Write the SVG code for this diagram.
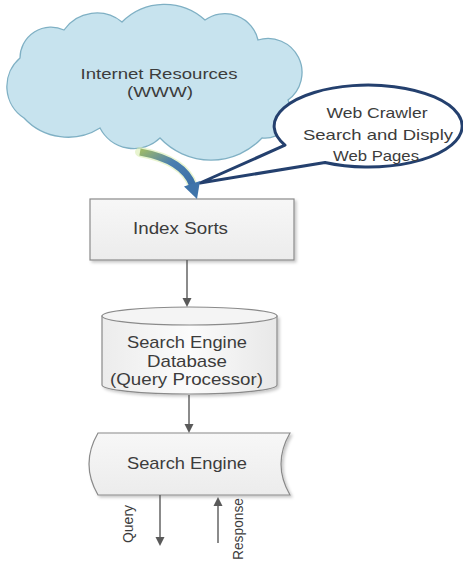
<svg xmlns="http://www.w3.org/2000/svg" width="463" height="565" viewBox="0 0 463 565">
<defs>
<style>
.t{font-family:"Liberation Sans",Arial,sans-serif;fill:#3c3c3c;}
.ln{stroke:#5a5a5a;stroke-width:1.4;fill:none;}
.ah{fill:#5a5a5a;}
.box{stroke:#8a8a8a;stroke-width:1.2;}
</style>
<linearGradient id="gBox" x1="0" y1="0" x2="0" y2="1">
<stop offset="0" stop-color="#f7f7f7"/>
<stop offset="1" stop-color="#ececec"/>
</linearGradient>
<linearGradient id="gCyl" x1="0" y1="0" x2="1" y2="0">
<stop offset="0" stop-color="#ececec"/>
<stop offset="0.5" stop-color="#fbfbfb"/>
<stop offset="1" stop-color="#e8e8e8"/>
</linearGradient>
<linearGradient id="gArr" x1="0" y1="0" x2="1" y2="1">
<stop offset="0" stop-color="#9cb86a"/>
<stop offset="0.45" stop-color="#4b7fb0"/>
<stop offset="1" stop-color="#3b6fa6"/>
</linearGradient>
<filter id="sh" x="-10%" y="-10%" width="130%" height="140%">
<feDropShadow dx="2" dy="2" stdDeviation="1.5" flood-color="#000" flood-opacity="0.22"/>
</filter>
</defs>
<rect width="463" height="565" fill="#ffffff"/>

<g id="cloud">
<path d="M24,118 A37.5,37.5 0 0 1 20,58 A31,31 0 0 1 64,30 A40,40 0 0 1 122,22 A60,60 0 0 1 205,20 A34,34 0 0 1 258,40 A34,34 0 0 1 288,100 A26,26 0 0 1 262,138 A70,70 0 0 1 160,138 A38,38 0 0 1 100,128 A60,60 0 0 1 24,118 Z" fill="#c7e3ee" stroke="#7fb0c4" stroke-width="1.3"/>
<text class="t" x="159" y="79" font-size="15" text-anchor="middle" textLength="157" lengthAdjust="spacingAndGlyphs">Internet Resources</text>
<text class="t" x="160" y="97" font-size="15" text-anchor="middle" textLength="66" lengthAdjust="spacingAndGlyphs">(WWW)</text>
</g>

<g id="callout">
<path d="M285,145.2 A94,41 0 1 1 325,162.5 L200,183 Z" fill="#ffffff" stroke="#24406e" stroke-width="3" stroke-linejoin="round"/>
<text class="t" x="377" y="118" font-size="14.5" text-anchor="middle" textLength="101" lengthAdjust="spacingAndGlyphs">Web Crawler</text>
<text class="t" x="378" y="140" font-size="14.5" text-anchor="middle" textLength="150" lengthAdjust="spacingAndGlyphs">Search and Disply</text>
<text class="t" x="376" y="161" font-size="14.5" text-anchor="middle" textLength="86" lengthAdjust="spacingAndGlyphs">Web Pages</text>
</g>

<g id="index-sorts">
<rect class="box" x="90" y="199" width="204" height="61" fill="url(#gBox)" filter="url(#sh)"/>
<text class="t" x="133" y="234" font-size="17" textLength="95" lengthAdjust="spacingAndGlyphs">Index Sorts</text>
</g>

<g id="database">
<path class="box" d="M102,316 L102,385 A87.5,9 0 0 0 277,385 L277,316 Z" fill="url(#gCyl)" filter="url(#sh)"/>
<ellipse class="box" cx="189.5" cy="316" rx="87.5" ry="9" fill="#f4f4f4"/>
<text class="t" x="187" y="348" font-size="17" text-anchor="middle" textLength="120" lengthAdjust="spacingAndGlyphs">Search Engine</text>
<text class="t" x="187" y="366.5" font-size="17" text-anchor="middle" textLength="80" lengthAdjust="spacingAndGlyphs">Database</text>
<text class="t" x="186.5" y="385" font-size="17" text-anchor="middle" textLength="153" lengthAdjust="spacingAndGlyphs">(Query Processor)</text>
</g>

<g id="search-engine">
<path class="box" d="M98,433 L290,433 Q272,464 290,495 L98,495 Q80,464 98,433 Z" fill="url(#gBox)" filter="url(#sh)"/>
<text class="t" x="187" y="469" font-size="17" text-anchor="middle" textLength="120" lengthAdjust="spacingAndGlyphs">Search Engine</text>
</g>

<g id="connectors">
<path d="M140,152 Q184,160 193,186" fill="none" stroke="#d9ecb0" stroke-width="10" stroke-linecap="round" opacity="0.6"/>
<path d="M140,152 Q184,160 193,186" fill="none" stroke="url(#gArr)" stroke-width="7"/>
<polygon points="200,181 184,186.5 197,199" fill="#3f74aa"/>
<line class="ln" x1="187" y1="260" x2="187" y2="299"/>
<polygon class="ah" points="182.5,298 191.5,298 187,307"/>
<line class="ln" x1="189" y1="395" x2="189" y2="425"/>
<polygon class="ah" points="184.5,424 193.5,424 189,433"/>
<line class="ln" x1="160" y1="495" x2="160" y2="538"/>
<polygon class="ah" points="155.5,537 164.5,537 160,546"/>
<line class="ln" x1="218" y1="543" x2="218" y2="505"/>
<polygon class="ah" points="213.5,506 222.5,506 218,497"/>
<text class="t" transform="translate(133,524) rotate(-90)" font-size="14" text-anchor="middle" textLength="38" lengthAdjust="spacingAndGlyphs">Query</text>
<text class="t" transform="translate(242.5,529) rotate(-90)" font-size="14" text-anchor="middle" textLength="62" lengthAdjust="spacingAndGlyphs">Response</text>
</g>
</svg>
